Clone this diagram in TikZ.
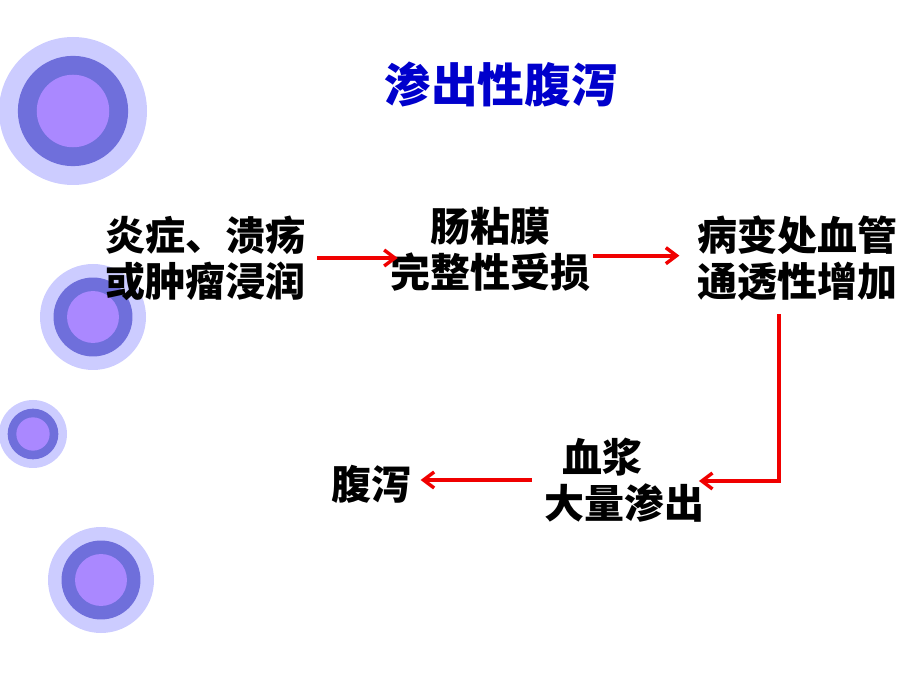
\documentclass[tikz,border=0pt]{standalone}
\usepackage{fontspec}
\newfontfamily\cjk{Noto Sans CJK SC}
\usetikzlibrary{arrows.meta}
\usetikzlibrary{calc}

\definecolor{ringout}{HTML}{CCCCFF}
\definecolor{ringmid}{HTML}{6F6FDB}
\definecolor{ringin}{HTML}{AA88FF}
\definecolor{titleblue}{HTML}{0000CC}
\definecolor{flowred}{HTML}{F00000}

\begin{document}
\begin{tikzpicture}[x=0.75pt, y=-0.75pt,
    box/.style   = {inner sep=0pt, align=center, font=\cjk\bfseries\fontsize{30}{34.5}\selectfont},
    flow/.style  = {draw=flowred, line width=2.8pt, -{Straight Barb[length=8pt,width=12pt,line width=2.6pt]}}]
    \useasboundingbox (0,0) rectangle (907,680);
    % decorative rings on the left
    \foreach \cx/\cy/\r in {73/111/74, 93/317/53, 33/434/34, 101/580/53} {
        \fill[ringout] (\cx,\cy) circle ({\r});
        \fill[ringmid] (\cx,\cy) circle ({0.745*\r});
        \fill[ringin]  (\cx,\cy) circle ({0.49*\r});
    }
    \node (title) at (501,85) [font=\cjk\bfseries\fontsize{35}{40}\selectfont, text=titleblue] {渗出性腹泻};

    \node[box] (cause)    at (205,258) {炎症、溃疡\\或肿瘤浸润};
    \node[box] (mucosa)   at (490,249) {肠粘膜\\完整性受损};
    \node[box] (vessel)   at (797,258) {病变处血管\\通透性增加};
    \node[box, align=left] (plasma) at (624,480) {\hspace{0.45em}血浆\\大量渗出};
    \node[box] (diarrhea) at (371,484) {腹泻};
    \coordinate (corner) at (779,481);

    \draw[flow, shorten <=9pt, shorten >=-6pt] (cause.east) -- (cause.east -| mucosa.west);
    \draw[flow, shorten <=2pt, shorten >=13pt] ([yshift=-5pt]mucosa.east) -- ([yshift=-5pt]mucosa.east -| vessel.west);
    \draw[flow, shorten <=10pt, shorten >=-4pt] (vessel.south -| corner) -- (corner) -- (corner -| plasma.east);
    \draw[flow, shorten <=9pt, shorten >=7pt] (plasma.west) -- (plasma.west -| diarrhea.east);
\end{tikzpicture}
\end{document}
